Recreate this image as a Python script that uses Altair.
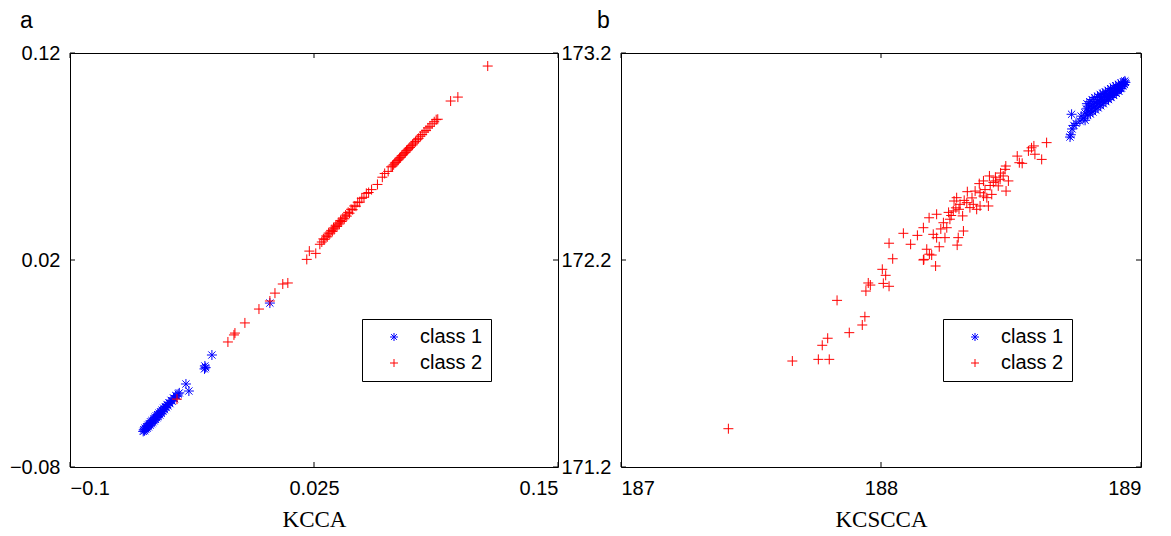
import altair as alt
import pandas as pd

# ---------------- Panel a (KCCA) ----------------
a_c1_x = [-0.0625, -0.0622, -0.0618, -0.0615, -0.0612, -0.0608, -0.0605, -0.0601, -0.0598, -0.0594,
          -0.0590, -0.0587, -0.0583, -0.0580, -0.0576, -0.0572, -0.0569, -0.0565, -0.0562, -0.0558,
          -0.0555, -0.0551, -0.0548, -0.0544, -0.0540, -0.0536, -0.0532, -0.0528, -0.0524, -0.0520,
          -0.0516, -0.0512, -0.0507, -0.0503, -0.0498, -0.0493, -0.0488, -0.0482, -0.0476, -0.0470,
          -0.0464, -0.0458, -0.0452, -0.0446, -0.0440, -0.0406, -0.0391, -0.0273, -0.0309, -0.0311,
          -0.0305, 0.0024]
a_c1_y = [-0.0628, -0.0620, -0.0625, -0.0612, -0.0618, -0.0605, -0.0612, -0.0598, -0.0606, -0.0590,
          -0.0598, -0.0582, -0.0591, -0.0576, -0.0584, -0.0568, -0.0577, -0.0560, -0.0570, -0.0553,
          -0.0562, -0.0547, -0.0556, -0.0540, -0.0549, -0.0533, -0.0540, -0.0525, -0.0531, -0.0516,
          -0.0523, -0.0508, -0.0513, -0.0498, -0.0504, -0.0489, -0.0494, -0.0478, -0.0482, -0.0466,
          -0.0470, -0.0455, -0.0458, -0.0447, -0.0442, -0.0399, -0.0433, -0.0259, -0.0312, -0.0326,
          -0.0320, -0.0008]

a_c2_x = [-0.0452, -0.0191, -0.0160, -0.0155, -0.0104, -0.0032, 0.0024, 0.0050, 0.0090, 0.0116,
          0.0213, 0.0226, 0.0259, 0.0280, 0.0290, 0.0298, 0.0305, 0.0312, 0.0318, 0.0325,
          0.0331, 0.0338, 0.0344, 0.0350, 0.0356, 0.0362, 0.0368, 0.0374, 0.0380, 0.0386,
          0.0392, 0.0398, 0.0405, 0.0412, 0.0418, 0.0425, 0.0432, 0.0440, 0.0448, 0.0456,
          0.0465, 0.0474, 0.0484, 0.0495, 0.0506, 0.0518, 0.0530, 0.0545, 0.0575, 0.0600,
          0.0612, 0.0630, 0.0645, 0.0652, 0.0658, 0.0664, 0.0670, 0.0676, 0.0682, 0.0688,
          0.0694, 0.0700, 0.0706, 0.0712, 0.0718, 0.0724, 0.0730, 0.0736, 0.0742, 0.0748,
          0.0755, 0.0762, 0.0770, 0.0778, 0.0786, 0.0795, 0.0804, 0.0814, 0.0824, 0.0834,
          0.0844, 0.0855, 0.0866, 0.0876, 0.0884, 0.0950, 0.0987, 0.1140]
a_c2_y = [-0.0472, -0.0196, -0.0162, -0.0153, -0.0104, -0.0037, 0.0002, 0.0040, 0.0084, 0.0089,
          0.0203, 0.0243, 0.0232, 0.0276, 0.0287, 0.0302, 0.0300, 0.0316, 0.0312, 0.0330,
          0.0326, 0.0343, 0.0338, 0.0355, 0.0350, 0.0368, 0.0362, 0.0379, 0.0374, 0.0391,
          0.0386, 0.0403, 0.0399, 0.0417, 0.0412, 0.0430, 0.0426, 0.0445, 0.0443, 0.0461,
          0.0460, 0.0479, 0.0479, 0.0498, 0.0503, 0.0522, 0.0526, 0.0540, 0.0565, 0.0600,
          0.0618, 0.0628, 0.0650, 0.0654, 0.0660, 0.0668, 0.0672, 0.0680, 0.0684, 0.0692,
          0.0696, 0.0704, 0.0708, 0.0716, 0.0720, 0.0728, 0.0732, 0.0740, 0.0744, 0.0752,
          0.0756, 0.0765, 0.0772, 0.0781, 0.0788, 0.0798, 0.0806, 0.0818, 0.0826, 0.0838,
          0.0846, 0.0858, 0.0868, 0.0878, 0.0880, 0.0968, 0.0987, 0.1137]

a_xticks = [-0.1, 0.025, 0.15]
a_yticks = [-0.08, 0.02, 0.12]

# ---------------- Panel b (KCSCCA) ----------------
b_c1_x = [188.780, 188.785, 188.790, 188.792, 188.795, 188.798, 188.800, 188.803, 188.805, 188.808,
          188.810, 188.812, 188.815, 188.818, 188.820, 188.822, 188.825, 188.828, 188.830, 188.833,
          188.835, 188.838, 188.840, 188.843, 188.845, 188.848, 188.850, 188.853, 188.855, 188.858,
          188.860, 188.863, 188.865, 188.868, 188.870, 188.873, 188.875, 188.878, 188.880, 188.883,
          188.885, 188.888, 188.890, 188.893, 188.895, 188.898, 188.900, 188.903, 188.905, 188.908,
          188.910, 188.913, 188.915, 188.918, 188.920, 188.923, 188.925, 188.928, 188.930, 188.933,
          188.936, 188.938, 188.940, 188.765, 188.733, 188.735, 188.727, 188.730, 188.785, 188.750,
          188.770, 188.742]
b_c1_y = [172.885, 172.910, 172.930, 172.955, 172.900, 172.940, 172.920, 172.965, 172.905, 172.945,
          172.930, 172.975, 172.915, 172.955, 172.940, 172.985, 172.925, 172.965, 172.950, 172.990,
          172.935, 172.975, 172.960, 173.000, 172.945, 172.985, 172.970, 173.005, 172.955, 172.990,
          172.978, 173.012, 172.965, 172.998, 172.985, 173.020, 172.975, 173.005, 172.992, 173.028,
          172.985, 173.012, 173.000, 173.035, 172.995, 173.020, 173.010, 173.042, 173.005, 173.028,
          173.018, 173.048, 173.015, 173.035, 173.028, 173.055, 173.030, 173.045, 173.040, 173.060,
          173.048, 173.065, 173.058, 172.871, 172.904, 172.833, 172.794, 172.805, 172.875, 172.860,
          172.895, 172.850]

b_c2_x = [187.413, 187.659, 187.759, 187.801, 187.774, 187.795, 187.878, 187.928, 187.938, 187.831,
          187.942, 187.951, 187.959, 188.005, 188.018, 188.009, 188.031, 188.045, 188.163, 188.186,
          188.210, 188.031, 188.086, 188.114, 188.140, 188.163, 188.185, 188.214, 188.165, 188.176,
          188.195, 188.201, 188.214, 188.224, 188.246, 188.253, 188.265, 188.278, 188.281, 188.291,
          188.304, 188.314, 188.297, 188.293, 188.317, 188.330, 188.342, 188.355, 188.368, 188.381,
          188.332, 188.362, 188.381, 188.394, 188.413, 188.407, 188.378, 188.394, 188.417, 188.432,
          188.426, 188.442, 188.458, 188.451, 188.470, 188.477, 188.480, 188.490, 188.481, 188.524,
          188.532, 188.543, 188.567, 188.579, 188.592, 188.588, 188.618, 188.637, 188.260, 188.270,
          188.288, 188.300, 188.320, 188.240, 188.230, 188.350, 188.400, 188.420, 188.440, 188.460]
b_c2_y = [171.385, 171.712, 171.720, 171.720, 171.788, 171.822, 171.849, 171.886, 171.926, 172.005,
          172.050, 172.089, 172.079, 172.155, 172.126, 172.087, 172.073, 172.206, 172.200, 172.228,
          172.171, 172.281, 172.329, 172.276, 172.319, 172.356, 172.404, 172.421, 172.203, 172.252,
          172.224, 172.324, 172.308, 172.264, 172.308, 172.356, 172.397, 172.437, 172.485, 172.501,
          172.469, 172.413, 172.308, 172.272, 172.340, 172.477, 172.453, 172.469, 172.445, 172.461,
          172.530, 172.533, 172.525, 172.509, 172.461, 172.501, 172.569, 172.582, 172.606, 172.575,
          172.517, 172.582, 172.590, 172.558, 172.606, 172.638, 172.654, 172.582, 172.533, 172.702,
          172.670, 172.667, 172.727, 172.742, 172.711, 172.751, 172.686, 172.767, 172.430, 172.415,
          172.452, 172.445, 172.488, 172.380, 172.350, 172.500, 172.540, 172.560, 172.600, 172.620]

b_xticks = [187, 188, 189]
b_yticks = [171.2, 172.2, 173.2]

classes = ["class 1", "class 2"]
class_colors = ["#0000ff", "#ff0000"]

PLUS = "M-1,0L1,0M0,-1L0,1"
STAR = "M-1,0L1,0M0,-1L0,1M-0.72,-0.72L0.72,0.72M-0.72,0.72L0.72,-0.72"

SANS = "Liberation Sans"
SERIF = "Liberation Serif"
H = 414


def panel(c1x, c1y, c2x, c2y, xdom, ydom, xt, yt, xtitle, letter, letter_dx, legx, legy, w):
    df = pd.DataFrame({
        "x": c1x + c2x,
        "y": c1y + c2y,
        "cls": [classes[0]] * len(c1x) + [classes[1]] * len(c2x),
    })
    xs = alt.Scale(domain=xdom, nice=False, zero=False)
    ys = alt.Scale(domain=ydom, nice=False, zero=False)
    xax = alt.Axis(values=xt, format=".4~g", title=xtitle)
    yax = alt.Axis(values=yt, format=".4~g", title=None)
    leg = alt.Legend(
        title=None, orient="none", legendX=legx, legendY=legy,
        strokeColor="black", fillColor="white", padding=8,
        symbolSize=64, symbolStrokeWidth=1, labelFontSize=20, labelFont=SANS,
        labelColor="black", rowPadding=6, labelOffset=16, symbolOffset=14,
        cornerRadius=0,
    )
    pts = alt.Chart(df).mark_point(filled=False, strokeWidth=1, size=100, opacity=1).encode(
        x=alt.X("x:Q", scale=xs, axis=xax),
        y=alt.Y("y:Q", scale=ys, axis=yax),
        color=alt.Color("cls:N", scale=alt.Scale(domain=classes, range=class_colors), legend=leg),
        shape=alt.Shape("cls:N", scale=alt.Scale(domain=classes, range=[STAR, PLUS]), legend=leg),
    )
    xdf = pd.DataFrame({"x": xt})
    ydf = pd.DataFrame({"y": yt})
    tb = alt.Chart(xdf).mark_rule(color="black", strokeWidth=1).encode(
        x=alt.X("x:Q", scale=xs, axis=xax), y=alt.value(H), y2=alt.value(H - 5))
    tt = alt.Chart(xdf).mark_rule(color="black", strokeWidth=1).encode(
        x=alt.X("x:Q", scale=xs, axis=xax), y=alt.value(0), y2=alt.value(5))
    tl = alt.Chart(ydf).mark_rule(color="black", strokeWidth=1).encode(
        y=alt.Y("y:Q", scale=ys, axis=yax), x=alt.value(0), x2=alt.value(5))
    tr = alt.Chart(ydf).mark_rule(color="black", strokeWidth=1).encode(
        y=alt.Y("y:Q", scale=ys, axis=yax), x=alt.value(w), x2=alt.value(w - 5))
    return alt.layer(pts, tb, tt, tl, tr).properties(
        width=w, height=H,
        title=alt.TitleParams(letter, anchor="start", frame="group", dx=letter_dx, dy=9,
                              fontSize=23, font=SANS, fontWeight="normal", color="black",
                              baseline="alphabetic", offset=1),
    )


pa = panel(a_c1_x, a_c1_y, a_c2_x, a_c2_y, [-0.1, 0.15], [-0.08, 0.12],
           a_xticks, a_yticks, "KCCA", "a", -50, 292, 266, 488)
pb = panel(b_c1_x, b_c1_y, b_c2_x, b_c2_y, [187, 189], [171.2, 173.2],
           b_xticks, b_yticks, "KCSCCA", "b", -24, 322, 266, 520)

chart = alt.hconcat(pa, pb, spacing=63, bounds="flush").resolve_legend(
    color="independent", shape="independent"
).properties(
    padding={"left": 0, "top": 1, "right": 5, "bottom": 5}
).configure_view(
    stroke="black", strokeWidth=1
).configure_axis(
    domain=False, ticks=False, grid=False,
    labelFont=SANS, labelFontSize=20, labelColor="black",
    titleFont=SERIF, titleFontSize=23, titleFontWeight="normal", titleColor="black",
).configure_axisX(
    labelPadding=11, titlePadding=10
).configure_axisY(
    labelPadding=10
)

chart.save("out.html", embed_options={"renderer": "svg", "actions": False})
